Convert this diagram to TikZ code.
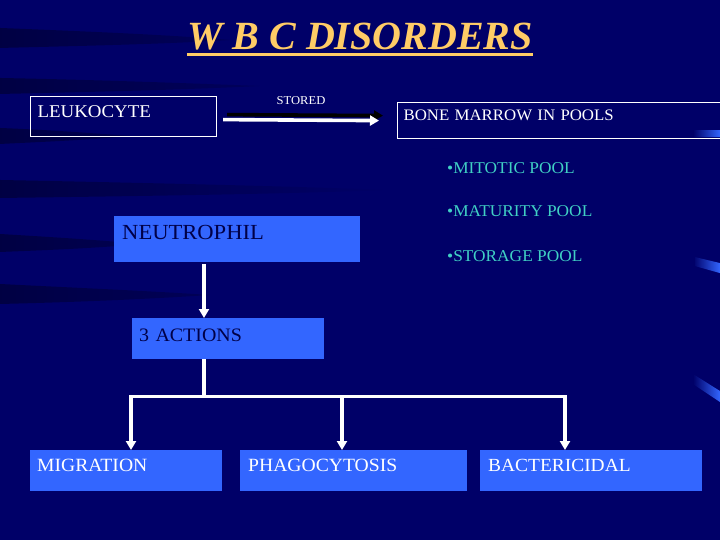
\documentclass[tikz,border=0pt]{standalone}
\usepackage{fontspec}
\setmainfont{Liberation Serif}
\newfontfamily\boxfont[FakeStretch=1.05]{Liberation Serif}
\usetikzlibrary{arrows.meta,calc,fadings}

\definecolor{bgnavy}{RGB}{0,0,104}
\definecolor{boxblue}{RGB}{51,102,255}
\definecolor{titlegold}{RGB}{255,204,102}
\definecolor{pooltext}{RGB}{64,208,196}
\definecolor{inktext}{RGB}{0,0,72}

\tikzset{
  outbox/.style={draw=white, line width=1.2pt, anchor=north west, inner ysep=0pt,
                 align=left, text=white},
  fillbox/.style={fill=boxblue, draw=none, anchor=north west, inner ysep=0pt,
                  align=left},
  wire/.style={white, line width=3.6pt},
  flow/.style={wire, -{Triangle[length=9pt,width=10pt]}},
  poolitem/.style={anchor=base west, inner sep=0pt, text=pooltext,
                   font=\boxfont\fontsize{16.5}{16.5}\selectfont}
}

\begin{document}
\begin{tikzpicture}[x=1pt,y=-1pt]
\useasboundingbox (0,0) rectangle (720,540);

%%%%%%%%%%%%%%%%%%%%%%%%%%%%%%%%%%%%%%%%%%%%%%%%	FONDO
\fill[bgnavy] (0,0) rectangle (720,540);
\fill[black, opacity=.35, path fading=east]			%%%%	dark streaks on the left
 (0,28) .. controls (100,32) and (170,35) .. (230,40) .. controls (170,44) and (80,46) .. (0,48) -- cycle
 (0,78) .. controls (100,80) and (180,83) .. (260,86) .. controls (180,90) and (90,92) .. (0,94) -- cycle
 (0,128) .. controls (50,130) and (90,133) .. (130,136) .. controls (90,140) and (40,142) .. (0,144) -- cycle
 (0,180) .. controls (150,183) and (280,186) .. (390,190) .. controls (280,194) and (150,196) .. (0,198) -- cycle
 (0,234) .. controls (50,237) and (100,240) .. (140,244) .. controls (100,248) and (50,250) .. (0,252) -- cycle
 (0,284) .. controls (80,288) and (150,291) .. (210,295) .. controls (150,299) and (80,302) .. (0,304) -- cycle;
\fill[boxblue, path fading=west]					%%%%	light streaks on the right
 (693,130) rectangle (720,137)
 (695,257) -- (720,263) -- (720,273) -- (695,266) -- cycle
 (693,374) -- (720,391) -- (720,402) -- (693,384) -- cycle;

%%%%%%%%%%%%%%%%%%%%%%%%%%%%%%%%%%%%%%%%%%%%%%%%	TITULO
\node[anchor=base, inner sep=0pt, text=titlegold,
      font=\fontsize{40}{40}\selectfont\bfseries\itshape] (title) at (360,50) {W B C DISORDERS};
\draw[titlegold, line width=3pt]
 ([yshift=-5pt]title.base west) -- ([yshift=-5pt]title.base east);	%%%%	underline

%%%%%%%%%%%%%%%%%%%%%%%%%%%%%%%%%%%%%%%%%%%%%%%%	FILA DE ARRIBA
\node[outbox, inner xsep=7pt, text width=172pt, text height=21pt, text depth=19pt,
      font=\boxfont\fontsize{18}{18}\selectfont] (leuk) at (30,96) {LEUKOCYTE};
\node[outbox, inner xsep=6pt, text width=318pt, text height=18pt, text depth=18pt,
      font=\boxfont\fontsize{16}{16}\selectfont] (bone) at (397,102) {BONE MARROW IN POOLS};
\node[anchor=base, inner sep=0pt, text=white,
      font=\boxfont\fontsize{12}{12}\selectfont] (stored) at (301,105) {STORED};

\draw[flow, black]													%%%%	shadow of the arrow
 ([xshift=10pt,yshift=2pt]leuk.east) -- ([xshift=-14pt,yshift=5pt]bone.west);
\draw[flow]
 ([xshift=6pt,yshift=-3pt]leuk.east) -- ([xshift=-18pt]bone.west);

%%%%%%%%%%%%%%%%%%%%%%%%%%%%%%%%%%%%%%%%%%%%%%%%	POOLS
\node[poolitem] (mitotic) at (447,174) {•MITOTIC POOL};
\node[poolitem] (maturity) at (447,217) {•MATURITY POOL};
\node[poolitem] (storage) at (447,261) {•STORAGE POOL};

%%%%%%%%%%%%%%%%%%%%%%%%%%%%%%%%%%%%%%%%%%%%%%%%	NEUTROFILO Y ACCIONES
\node[fillbox, inner xsep=8pt, text width=230pt, text height=23pt, text depth=23pt,
      text=inktext, font=\boxfont\fontsize{21.5}{21.5}\selectfont] (neutro) at (114,216) {NEUTROPHIL};
\node[fillbox, inner xsep=7pt, text width=178pt, text height=23pt, text depth=18pt,
      text=inktext, font=\boxfont\fontsize{19}{19}\selectfont] (actions) at (132,318) {3 ACTIONS};

\draw[flow, shorten <=2pt]
 ([xshift=90pt]neutro.south west) -- ([xshift=72pt]actions.north west);

%%%%%%%%%%%%%%%%%%%%%%%%%%%%%%%%%%%%%%%%%%%%%%%%	CAJAS DE ABAJO
\node[fillbox, inner xsep=7pt, text width=178pt, text height=21pt, text depth=20pt,
      text=white, font=\boxfont\fontsize{18.7}{18.7}\selectfont] (mig) at (30,450) {MIGRATION};
\node[fillbox, inner xsep=8pt, text width=211pt, text height=21pt, text depth=20pt,
      text=white, font=\boxfont\fontsize{18.7}{18.7}\selectfont] (phago) at (240,450) {PHAGOCYTOSIS};
\node[fillbox, inner xsep=8pt, text width=206pt, text height=21pt, text depth=20pt,
      text=white, font=\boxfont\fontsize{18.5}{18.5}\selectfont] (bact) at (480,450) {BACTERICIDAL};

%%%%%%%%%%%%%%%%%%%%%%%%%%%%%%%%%%%%%%%%%%%%%%%%	RAMAS
\coordinate (split) at ([xshift=72pt,yshift=-37pt]actions.south west);	%%%%	x = 204
\coordinate (jm) at (131,0 |- split);
\coordinate (jp) at (342,0 |- split);
\coordinate (jb) at (565,0 |- split);

\draw[wire] ([xshift=72pt]actions.south west) -- (split);
\draw[wire, line cap=rect] (jm) -- (jb);
\draw[flow] (jm) -- (jm |- mig.north);
\draw[flow] (jp) -- (jp |- phago.north);
\draw[flow] (jb) -- (jb |- bact.north);

\end{tikzpicture}
\end{document}
